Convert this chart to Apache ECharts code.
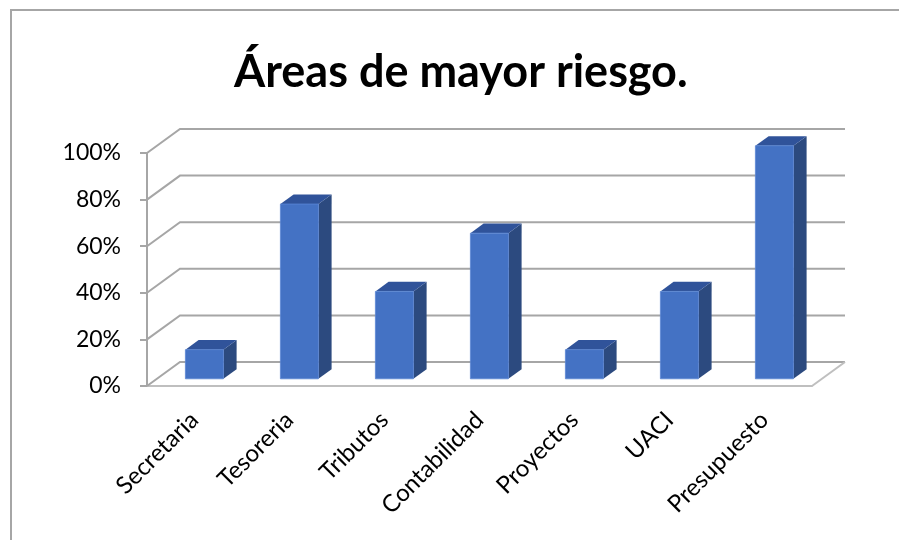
<!DOCTYPE html>
<html>
<head>
<meta charset="utf-8">
<script src="https://cdn.jsdelivr.net/npm/echarts@6/dist/echarts.min.js"></script>
<style>html,body{margin:0;padding:0;background:#fff}#c{width:899px;height:540px}</style>
</head>
<body>
<div id="c"></div>
<script>
var categories = ['Secretaria', 'Tesoreria', 'Tributos', 'Contabilidad', 'Proyectos', 'UACI', 'Presupuesto'];
var values = [12.5, 75, 37.5, 62.5, 12.5, 37.5, 100];
var yTicks = [0, 20, 40, 60, 80, 100];
var titleText = 'Áreas de mayor riesgo.';

var DX = 33, DY = -24;      // depth offset of back wall
var GRID_COLOR = '#a6a6a6';
var FONT = 'Lato';

var chart = echarts.init(document.getElementById('c'), null, {renderer: 'canvas'});

function wallItem(params, api) {
  var cs = params.coordSys;
  var v = api.value(0);
  var y = api.coord([0, v])[1];
  var x0 = cs.x, x1 = cs.x + cs.width;
  var children = [{
    type: 'polyline',
    shape: {points: [[x0, y], [x0 + DX, y + DY], [x1 + DX, y + DY]]},
    style: {stroke: GRID_COLOR, lineWidth: 2, fill: null}
  }];
  if (v === 0) {
    children.push({
      type: 'line',
      shape: {x1: x1, y1: y, x2: x1 + DX, y2: y + DY},
      style: {stroke: '#bfbfbf', lineWidth: 2}
    });
  }
  return {type: 'group', children: children};
}

function barItem(params, api) {
  var i = api.value(0), v = api.value(1);
  var top = api.coord([i, v]);
  var base = api.coord([i, 0]);
  var band = api.size([1, 0])[0];
  var w = band * 0.4;
  var ox = DX * 0.3, oy = DY * 0.3;
  var bx = DX * 0.4, by = DY * 0.4;
  var L = top[0] + ox - w / 2, R = L + w;
  var T = top[1] + oy, B = base[1] + oy;
  return {
    type: 'group',
    children: [
      {type: 'polygon', shape: {points: [[R, T], [R + bx, T + by], [R + bx, B + by], [R, B]]},
        style: {fill: '#2c4a7f'}},
      {type: 'polygon', shape: {points: [[L, T], [L + bx, T + by], [R + bx, T + by], [R, T]]},
        style: {fill: '#30539a'}},
      {type: 'rect', shape: {x: L, y: T, width: w, height: B - T},
        style: {fill: '#4472c4', stroke: '#5a86d4', lineWidth: 0.8}}
    ]
  };
}

chart.setOption({
  animation: false,
  backgroundColor: '#ffffff',
  title: {
    text: titleText,
    left: 229,
    top: 45,
    textStyle: {fontFamily: FONT, fontWeight: 'bold', fontSize: 45, color: '#000'}
  },
  graphic: [
    {type: 'line', shape: {x1: 11, y1: 10, x2: 11, y2: 540}, style: {stroke: '#a6a6a6', lineWidth: 2}},
    {type: 'line', shape: {x1: 10, y1: 10, x2: 899, y2: 10}, style: {stroke: '#a6a6a6', lineWidth: 2}}
  ],
  grid: {left: 147, right: 87, top: 153, bottom: 154, containLabel: false},
  xAxis: {
    type: 'category',
    data: categories,
    axisLine: {show: true, lineStyle: {color: '#bfbfbf', width: 2}},
    axisTick: {show: false},
    axisLabel: {rotate: 45, margin: 30, interval: 0, fontFamily: FONT, fontSize: 24, color: '#000'},
    splitLine: {show: false}
  },
  yAxis: {
    type: 'value',
    min: 0, max: 100, interval: 20,
    axisLine: {show: true, lineStyle: {color: GRID_COLOR, width: 2}},
    axisTick: {show: true, length: 7, lineStyle: {color: GRID_COLOR, width: 2}},
    axisLabel: {formatter: '{value}%', margin: 26, fontFamily: FONT, fontSize: 23, color: '#000'},
    splitLine: {show: false}
  },
  series: [
    {
      type: 'custom',
      renderItem: wallItem,
      data: yTicks.map(function (t) { return [t]; }),
      encode: {y: 0},
      z: 1,
      silent: true
    },
    {
      type: 'custom',
      renderItem: barItem,
      data: values.map(function (v, i) { return [i, v]; }),
      encode: {x: 0, y: 1},
      z: 2
    }
  ]
});
</script>
</body>
</html>
